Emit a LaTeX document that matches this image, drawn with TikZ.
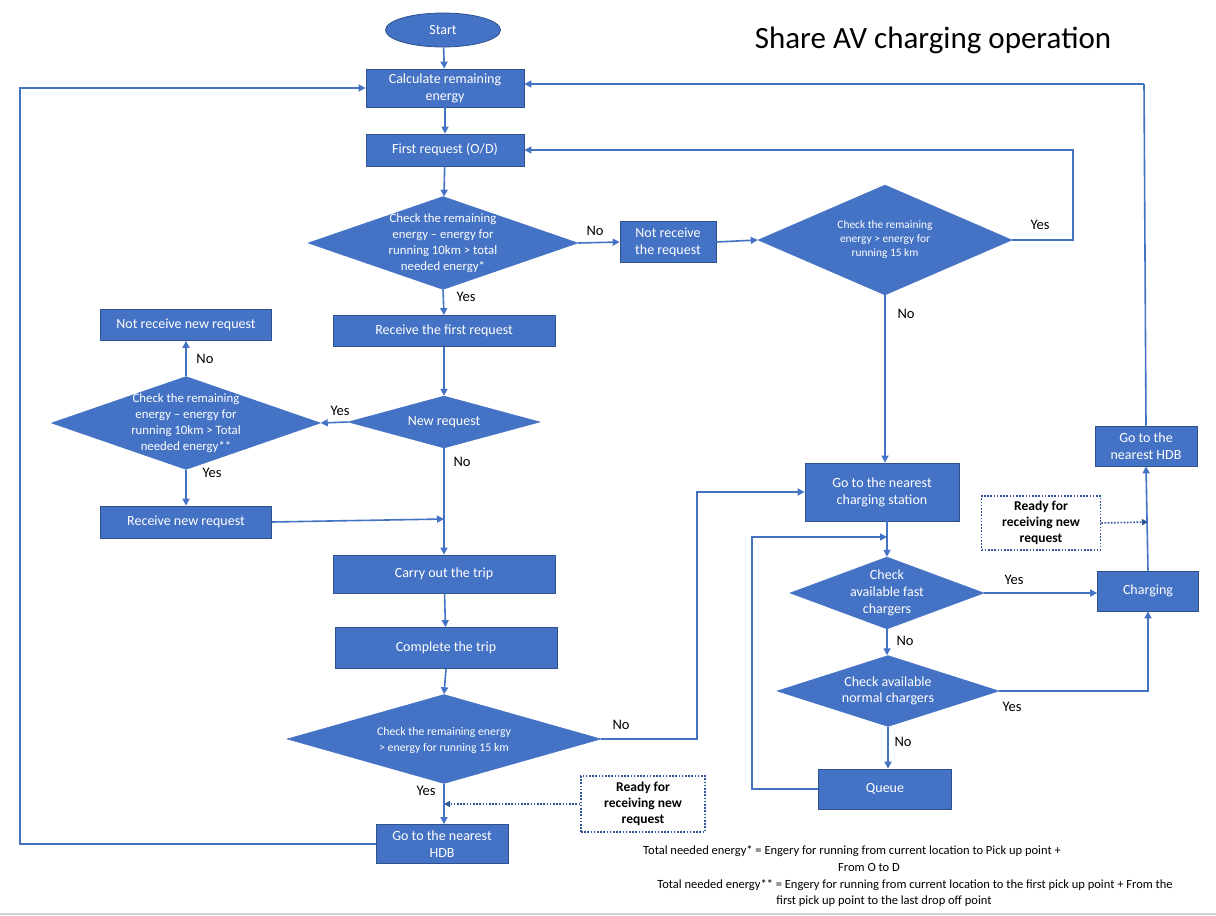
\documentclass[tikz,border=0pt]{standalone}
\usepackage{fontspec}
\setmainfont{Carlito}
\usetikzlibrary{shapes.geometric,arrows.meta}
\definecolor{boxblue}{HTML}{4472C4}
\definecolor{bdr}{HTML}{2F528F}
\definecolor{lineblue}{HTML}{4472C4}
\definecolor{dotblue}{HTML}{2F5597}
\tikzset{
  box/.style={draw=bdr, fill=boxblue, text=white, font=\fontsize{14}{17}\selectfont, align=center, inner sep=0pt, line width=0.8pt},
  dia/.style={diamond, draw=boxblue, fill=boxblue, inner sep=0pt, line width=0.5pt},
  dtext/.style={text=white, align=center, inner sep=0pt},
  lab/.style={font=\fontsize{14.5}{17}\selectfont, text=black},
  conn/.style={draw=lineblue, line width=1.6pt, -{Triangle[length=7pt,width=7pt]}},
  plain/.style={draw=lineblue, line width=1.6pt},
  dotconn/.style={draw=dotblue, line width=1.6pt, dash pattern=on 1.6pt off 1.6pt, -{Triangle[length=6pt,width=6pt]}},
  readybox/.style={draw=dotblue, line width=1.6pt, dash pattern=on 1.6pt off 1.6pt, fill=white, font=\bfseries\fontsize{13.5}{16}\selectfont, align=center, inner sep=0pt},
  note/.style={font=\fontsize{12.5}{15}\selectfont, text=black, inner sep=0pt}
}
\begin{document}
\begin{tikzpicture}[x=1pt,y=-1pt]
\useasboundingbox (0,0) rectangle (1216,916);
\fill[white] (0,0) rectangle (1216,916);
\draw[gray!35, line width=2pt] (0,914) -- (1216,914);

% title
\node[font=\fontsize{31}{36}\selectfont] (title) at (933,40) {Share AV charging operation};

% left column
\node[ellipse, draw=bdr, fill=boxblue, text=white, font=\fontsize{14}{17}\selectfont, minimum width=115pt, minimum height=34pt, inner sep=0pt, line width=0.8pt] (start) at (443,30) {Start};
\node[box, minimum width=158pt, minimum height=38pt] (calc) at (445,88) {Calculate remaining\\energy};
\node[box, minimum width=158pt, minimum height=32pt] (first) at (445,150) {First request (O/D)};
\node[dia, minimum width=270pt, minimum height=93pt] (d1) at (443,243) {};
\node[dtext, font=\fontsize{12.8}{16}\selectfont] at (443,243) {Check the remaining\\energy -- energy for\\running 10km > total\\needed energy*};
\node[box, minimum width=96pt, minimum height=41pt] (notrecv) at (668,242) {Not receive\\the request};
\node[dia, minimum width=254pt, minimum height=110pt] (d2) at (885,240) {};
\node[dtext, font=\fontsize{11.4}{14}\selectfont] at (885,240) {Check the remaining\\energy > energy for\\running 15 km};
\node[box, minimum width=222pt, minimum height=31pt] (recvfirst) at (444,331) {Receive the first request};
\node[dia, minimum width=192pt, minimum height=52pt] (newreq) at (444,422) {};
\node[dtext, font=\fontsize{14}{17}\selectfont] at (444,422) {New request};
\node[dia, minimum width=269pt, minimum height=93pt] (d3) at (186,423) {};
\node[dtext, font=\fontsize{12.8}{16}\selectfont] at (186,423) {Check the remaining\\energy -- energy for\\running 10km > Total\\needed energy**};
\node[box, minimum width=171pt, minimum height=31pt] (notnew) at (186,325) {Not receive new request};
\node[box, minimum width=171pt, minimum height=32pt] (recvnew) at (186,522) {Receive new request};
\node[box, minimum width=222pt, minimum height=38pt] (carry) at (444,574) {Carry out the trip};
\node[box, minimum width=222pt, minimum height=41pt] (complete) at (446,648) {Complete the trip};
\node[dia, minimum width=314pt, minimum height=89pt] (d4) at (444,739) {};
\node[dtext, font=\fontsize{11.8}{16}\selectfont] at (444,740) {Check the remaining energy\\> energy for running 15 km};
\node[box, minimum width=132pt, minimum height=39pt] (hdb1) at (442,844) {Go to the nearest\\HDB};
\node[readybox, minimum width=124pt, minimum height=56pt] (ready1) at (643,804) {Ready for\\receiving new\\request};

% right column
\node[box, minimum width=154pt, minimum height=58pt] (station) at (882,492) {Go to the nearest\\charging station};
\node[dia, minimum width=194pt, minimum height=72pt] (fast) at (887,593) {};
\node[dtext, font=\fontsize{14}{17}\selectfont] at (887,593) {Check\\available fast\\chargers};
\node[dia, minimum width=222pt, minimum height=71pt] (normal) at (888,691) {};
\node[dtext, font=\fontsize{14}{16}\selectfont] at (888,691) {Check available\\normal chargers};
\node[box, minimum width=133pt, minimum height=40pt] (queue) at (885,789) {Queue};
\node[box, minimum width=101pt, minimum height=40pt] (charging) at (1148,591) {Charging};
\node[box, minimum width=102pt, minimum height=40pt] (hdb2) at (1146,446) {Go to the\\nearest HDB};
\node[readybox, minimum width=119pt, minimum height=54pt] (ready2) at (1041,523) {Ready for\\receiving new\\request};

% helper coordinates
\coordinate (rin) at (444,519);
\coordinate (r1in) at (444,804);
\coordinate (qin) at (887,537);
\coordinate (r2in) at (1148,522);

% connectors
\draw[conn] (start) -- (calc);
\draw[conn] (calc) -- (first);
\draw[conn] (first) -- (d1);
\draw[conn] (d1.south) -- (recvfirst.north);
\draw[conn] (d1.east) -- (notrecv.west);
\draw[conn] (notrecv.east) -- (d2.west);
\draw[conn] (d2.east) -- (1073,240) |- (first.east);
\draw[conn] (d2.south) -- (d2.south |- station.north);
\draw[conn] (recvfirst) -- (newreq);
\draw[conn] (newreq.west) -- (d3.east);
\draw[conn] (d3.north) -- (notnew.south);
\draw[conn] (d3.south) -- (d3.south |- recvnew.north);
\draw[conn] (newreq.south) -- (carry.north);
\draw[conn] (recvnew.east) -- (rin);
\draw[conn] (carry) -- (complete);
\draw[conn] (complete.south) -- (d4.north);
\draw[conn] (d4.south) -- (hdb1.north -| d4.south);
\draw[dotconn] (ready1.west) -- (r1in);
\draw[conn] (hdb1.west) -- (20,844) |- (calc.west);
\draw[conn] (d4.east) -- (697,739) |- (station.west);
\draw[conn] (station.south -| fast.north) -- (fast.north);
\draw[conn] (fast.east) -- (fast.east -| charging.west);
\draw[conn] (fast.south) -- (normal.north -| fast.south);
\draw[conn] (normal.east) -| (charging.south);
\draw[conn] (normal.south) -- (queue.north -| normal.south);
\draw[conn] (queue.west) -- (752,789) |- (qin);
\draw[conn] (charging.north) -- (hdb2.south);
\draw[dotconn] (ready2.east) -- (r2in);
\draw[plain] (hdb2.north) -- (1144,84);
\draw[conn] (1144,84) -- (calc.east |- 0,84);

% labels
\node[lab] at (595,231) {No};
\node[lab] at (466,297) {Yes};
\node[lab] at (1040,225) {Yes};
\node[lab] at (906,314) {No};
\node[lab] at (340,411) {Yes};
\node[lab] at (205,359) {No};
\node[lab] at (212,473) {Yes};
\node[lab] at (462,462) {No};
\node[lab] at (621,725) {No};
\node[lab] at (426,791) {Yes};
\node[lab] at (1014,580) {Yes};
\node[lab] at (905,641) {No};
\node[lab] at (1012,707) {Yes};
\node[lab] at (903,742) {No};

% footnotes
\node[note] (n1) at (852,851) {Total needed energy* = Engery for running from current location to Pick up point +};
\node[note] (n2) at (869,867) {From O to D};
\node[note] (n3) at (915,885) {Total needed energy** = Engery for running from current location to the first pick up point + From the};
\node[note] (n4) at (884,901) {first pick up point to the last drop off point};
\end{tikzpicture}
\end{document}
